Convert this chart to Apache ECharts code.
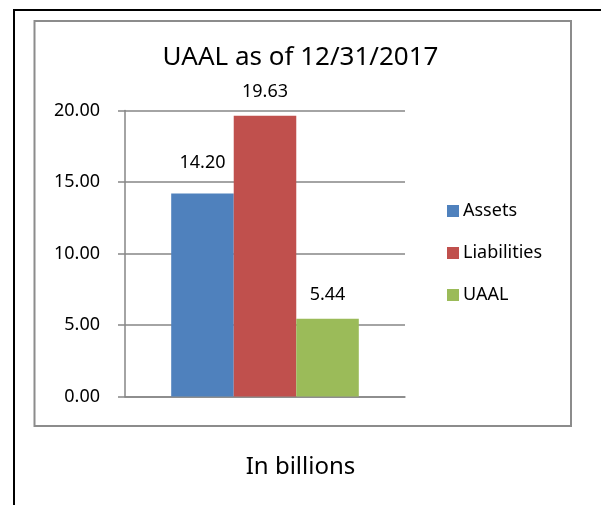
<!DOCTYPE html>
<html>
<head>
<meta charset="utf-8">
<script src="https://cdn.jsdelivr.net/npm/echarts@6/dist/echarts.min.js"></script>
<style>
  html, body { margin: 0; padding: 0; background: #fff; }
  #chart { width: 601px; height: 505px; }
</style>
</head>
<body>
<div id="chart"></div>
<script>
// Funding snapshot, in billions
const categories = [''];
const seriesNames = ['Assets', 'Liabilities', 'UAAL'];
const assetsValues = [14.20];
const liabilitiesValues = [19.63];
const uaalValues = [5.44];
const yTicks = [0, 5, 10, 15, 20];

const colors = ['#4f81bd', '#c0504d', '#9bbb59'];
const FONT = '"Noto Sans", "Open Sans", sans-serif';

const chart = echarts.init(document.getElementById('chart'), null, { renderer: 'canvas' });

function barSeries(name, values, color, labelDistance) {
  return {
    name: name,
    type: 'bar',
    data: values.map(v => ({ value: v, label: { distance: labelDistance } })),
    barGap: '0%',
    barCategoryGap: '33%',
    itemStyle: { color: color },
    label: {
      show: true,
      position: 'top',
      color: '#000',
      fontFamily: FONT,
      fontSize: 18,
      formatter: p => p.value.toFixed(2)
    },
    emphasis: { disabled: true },
    animation: false
  };
}

chart.setOption({
  animation: false,
  textStyle: { fontFamily: FONT },
  graphic: [
    {
      type: 'rect',
      shape: { x: 14, y: 10, width: 700, height: 600 },
      style: { fill: 'none', stroke: '#000', lineWidth: 2 },
      silent: true, z: -10
    },
    {
      type: 'rect',
      shape: { x: 34.5, y: 21, width: 536.5, height: 405 },
      style: { fill: 'none', stroke: '#8c8c8c', lineWidth: 2 },
      silent: true, z: -10
    }
  ],
  title: [
    {
      text: 'UAAL as of 12/31/2017',
      left: 'center',
      top: 45,
      padding: 0,
      textStyle: { fontFamily: FONT, fontSize: 26, fontWeight: 'normal', color: '#000' }
    },
    {
      text: 'In billions',
      left: 'center',
      top: 455,
      padding: 0,
      textStyle: { fontFamily: FONT, fontSize: 24, fontWeight: 'normal', color: '#000' }
    }
  ],
  legend: {
    orient: 'vertical',
    left: 447,
    top: 202,
    padding: 0,
    itemWidth: 12,
    itemHeight: 12,
    itemGap: 24,
    icon: 'rect',
    selectedMode: false,
    data: seriesNames,
    textStyle: { fontFamily: FONT, fontSize: 18, color: '#000', padding: [0, 0, 0, -1] }
  },
  grid: {
    left: 125,
    right: 196,
    top: 110.5,
    bottom: 108.5,
    containLabel: false
  },
  xAxis: {
    type: 'category',
    data: categories,
    axisLine: { show: true, lineStyle: { color: '#868686', width: 1.5 } },
    axisTick: { show: false },
    axisLabel: { show: false },
    splitLine: { show: false }
  },
  yAxis: {
    type: 'value',
    min: yTicks[0],
    max: yTicks[yTicks.length - 1],
    interval: yTicks[1] - yTicks[0],
    axisLine: { show: true, lineStyle: { color: '#868686', width: 1.5 } },
    axisTick: { show: true, inside: false, length: 7, lineStyle: { color: '#868686', width: 1.5 } },
    axisLabel: {
      margin: 25,
      color: '#000',
      fontFamily: FONT,
      fontSize: 18,
      formatter: v => v.toFixed(2)
    },
    splitLine: { show: true, lineStyle: { color: '#868686', width: 1.5 } }
  },
  series: [
    barSeries(seriesNames[0], assetsValues, colors[0], 22),
    barSeries(seriesNames[1], liabilitiesValues, colors[1], 15),
    barSeries(seriesNames[2], uaalValues, colors[2], 15)
  ]
});
</script>
</body>
</html>
